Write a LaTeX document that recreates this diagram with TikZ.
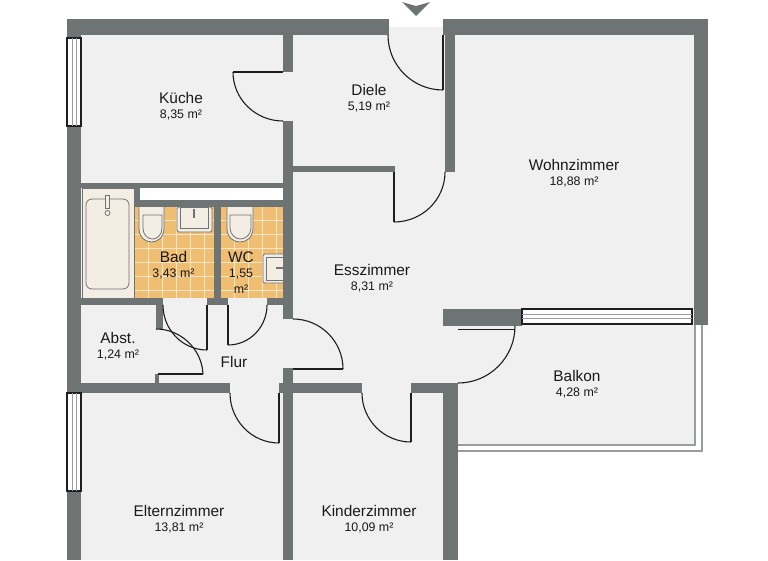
\documentclass[tikz,border=0pt]{standalone}
\usepackage{fontspec}
\usetikzlibrary{calc}
\setmainfont{Liberation Sans}
\definecolor{wallc}{HTML}{6E7374}
\definecolor{roomc}{HTML}{F0F0F0}
\definecolor{tilec}{HTML}{F0BE73}
\definecolor{gridc}{HTML}{F8E6C4}
\definecolor{sanc}{HTML}{F3EDE4}
\definecolor{railc}{HTML}{9A9D9E}
\definecolor{inkc}{HTML}{1E1E1E}
\newcommand{\lab}[4]{\node[labname] (#1) at (#2) {#3}; \node[labarea] (#1a) at ([yshift=-16.5pt]#2) {#4};}
\newcommand{\swing}[3]{\draw[doorline] (#1) .. controls ($(#1)+0.5523*(#3)-0.5523*(#2)$) and ($(#3)+0.5523*(#1)-0.5523*(#2)$) .. (#3);}
\newcommand{\door}[3]{\swing{#1}{#2}{#3}\draw[doorline] (#3) -- (#2);}
\begin{document}
\begin{tikzpicture}[x=1pt,y=-1pt,
  wall/.style={fill=wallc,draw=none},
  doorline/.style={draw=inkc,line width=1.1pt},
  winframe/.style={draw=inkc,fill=white,line width=1.1pt},
  winline/.style={draw=railc,line width=.7pt},
  rail/.style={draw=railc,line width=1.1pt},
  fixture/.style={draw=wallc,fill=sanc,line width=.8pt},
  labname/.style={inner sep=0pt,font=\fontsize{15.4}{15.4}\selectfont,text=black!90},
  labarea/.style={inner sep=0pt,font=\fontsize{12.4}{12.4}\selectfont,text=black!90}]
\useasboundingbox (0,0) rectangle (768,560);
\begin{scope}
\clip (0,0) rectangle (768,560);
% floor
\fill[roomc] (67,27) -- (694,27) -- (694,324) -- (695,324) -- (695,445) -- (458,445) -- (458,560) -- (67,560) -- cycle;
% white void above bathrooms
\fill[white] (140,188) rectangle (283,200);
% tiles
\fill[tilec] (134,207) rectangle (214,298);
\fill[tilec] (221,207) rectangle (283,298);
\begin{scope}
\clip (134,207) rectangle (214,298) (221,207) rectangle (283,298);
\foreach \x in {148,162,176,190,204,234,248,262,276} \draw[gridc,line width=.9pt] (\x,207) -- (\x,298);
\foreach \y in {220,234,248,262,276,290} \draw[gridc,line width=.9pt] (134,\y) -- (283,\y);
\end{scope}
% bath
\fill[sanc] (82,188) rectangle (134,298);
\draw[wallc,line width=.8pt] (82,188) rectangle (134,298);
\draw[wallc,line width=.8pt,rounded corners=6pt] (86,199) rectangle (129,289);
\draw[fixture] (105.5,195) rectangle (109.5,208);
\draw[fixture] (107.5,213) circle (2.5);
% toilets
\draw[fixture] (139,207) -- (139,228) .. controls (139,238) and (146,242) .. (151.5,242) .. controls (157,242) and (164,238) .. (164,228) -- (164,207);
\draw[fixture] (143,215) -- (162,215) -- (162,228) .. controls (162,235) and (157,239) .. (152.5,239) .. controls (148,239) and (143,235) .. (143,228) -- cycle;
\draw[fixture] (227,207) -- (227,228) .. controls (227,238) and (234,242) .. (240,242) .. controls (246,242) and (253,238) .. (253,228) -- (253,207);
\draw[fixture] (230,215) -- (251,215) -- (251,228) .. controls (251,235) and (245,239) .. (240.5,239) .. controls (236,239) and (230,235) .. (230,228) -- cycle;
% sinks
\draw[fixture,rounded corners=1.5pt] (177,207) rectangle (212,232);
\draw[fixture] (180,207) rectangle (208,228);
\draw[wallc,line width=1.3pt] (194,209) -- (194,218);
\draw[fixture,rounded corners=1.5pt] (283,254) -- (263,254) -- (263,283) -- (283,283);
\draw[fixture] (283,257) -- (266,257) -- (266,280) -- (283,280);
\draw[wallc,line width=1.3pt] (276,268) -- (283,268);
% balcony rails
\draw[rail] (458,445) -- (695,445) -- (695,324);
\draw[rail] (458,451) -- (702,451) -- (702,324);
% walls
\fill[wall] (67,19) rectangle (389,35);
\fill[wall] (443,19) rectangle (708,35);
\fill[wall] (67,19) rectangle (81,560);
\fill[wall] (694,19) rectangle (708,325);
\fill[wall] (445,35) rectangle (455,172);
\fill[wall] (283,35) rectangle (293,72);
\fill[wall] (283,121) rectangle (293,319);
\fill[wall] (283,368) rectangle (293,560);
\fill[wall] (293,166) rectangle (395,172);
\fill[wall] (81,183) rectangle (283,188);
\fill[wall] (134,188) rectangle (140,207);
\fill[wall] (134,200) rectangle (283,207);
\fill[wall] (214,207) rectangle (221,298);
\fill[wall] (81,298) rectangle (163,305);
\fill[wall] (207,298) rectangle (228,305);
\fill[wall] (267,298) rectangle (283,305);
\fill[wall] (156,305) rectangle (163,329);
\fill[wall] (155,374) rectangle (159,383);
\fill[wall] (81,383) rectangle (230,393);
\fill[wall] (279,383) rectangle (362,393);
\fill[wall] (411,383) rectangle (458,393);
\fill[wall] (443,383) rectangle (458,560);
\fill[wall] (443,309) rectangle (522,326);
% windows
\draw[winframe] (67,38) rectangle (81,126);
\draw[winline] (72,38) -- (72,126) (76,38) -- (76,126);
\draw[winframe] (67,393) rectangle (81,491);
\draw[winline] (72,393) -- (72,491) (76,393) -- (76,491);
\draw[winframe] (522,309) rectangle (692,324);
\draw[winline] (522,314) -- (692,314) (522,318.5) -- (692,318.5);
% doors
\door{388,35}{443,35}{443,90}
\door{283,121}{283,72}{233,72}
\door{445,172}{394,172}{394,222}
\door{163,305}{207,305}{207,350}
\door{267,305}{228,305}{228,345}
\door{156,329}{158,374}{203,374}
\door{293,319}{293,369}{343,369}
\door{230,393}{279,393}{279,443}
\door{362,393}{411,393}{411,442}
\swing{515,326}{458,326}{458,383}
\draw[doorline] (458,329.5) -- (515,329.5);
% entrance arrow
\fill[wallc] (402,2) -- (416,6) -- (430,2) -- (416,16) -- cycle;
\end{scope}
% labels
\lab{kueche}{181,98}{Küche}{8,35 m²}
\lab{diele}{369,90}{Diele}{5,19 m²}
\lab{wohn}{574,165}{Wohnzimmer}{18,88 m²}
\lab{ess}{372,270}{Esszimmer}{8,31 m²}
\lab{bad}{173.5,257}{Bad}{3,43 m²}
\node[labname] (wc) at (241,257) {WC};
\node[labarea] (wca) at (241,274) {1,55};
\node[labarea] (wcb) at (241,289) {m²};
\lab{abst}{118,338}{Abst.}{1,24 m²}
\node[labname] (flur) at (234,362) {Flur};
\lab{balkon}{577,376}{Balkon}{4,28 m²}
\lab{eltern}{179,511}{Elternzimmer}{13,81 m²}
\lab{kinder}{369,511}{Kinderzimmer}{10,09 m²}
\end{tikzpicture}
\end{document}
